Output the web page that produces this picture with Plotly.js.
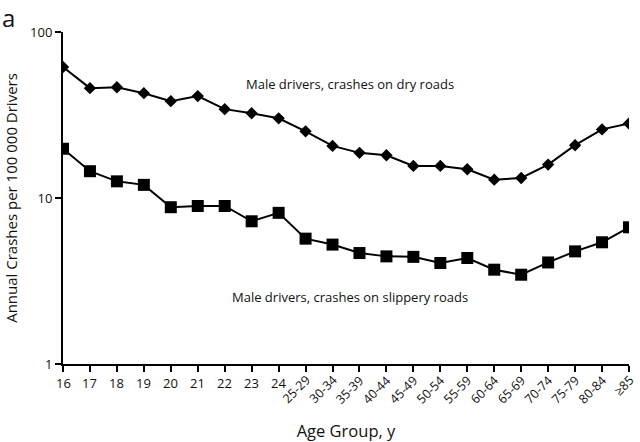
<!DOCTYPE html>
<html>
<head>
<meta charset="utf-8">
<script src="https://cdn.plot.ly/plotly-3.0.1.min.js"></script>
<style>html,body{margin:0;padding:0;background:#fff;}#chart{width:640px;height:442px;}</style>
</head>
<body>
<div id="chart"></div>
<script>
var ageGroups = ["16","17","18","19","20","21","22","23","24","25-29","30-34","35-39","40-44","45-49","50-54","55-59","60-64","65-69","70-74","75-79","80-84","\u226585"];
var dryRoads = [61.5, 45.9, 46.5, 42.8, 38.3, 41.1, 34.3, 32.4, 30.2, 25.2, 20.6, 18.7, 18.1, 15.6, 15.6, 14.9, 12.9, 13.2, 15.9, 20.8, 25.9, 28.1];
var slipperyRoads = [19.8, 14.5, 12.6, 12.0, 8.8, 8.95, 8.95, 7.24, 8.14, 5.69, 5.24, 4.66, 4.45, 4.42, 4.06, 4.35, 3.70, 3.45, 4.09, 4.77, 5.41, 6.66];
var yTickVals = [1, 10, 100];
var yTickText = ["1", "10", "100"];
var seriesLabels = ["Male drivers, crashes on dry roads", "Male drivers, crashes on slippery roads"];

var FONT = "Open Sans, sans-serif";
var idx = ageGroups.map(function(_, i){ return i; });

var traces = [
  {x: idx, y: dryRoads, type: "scatter", mode: "lines+markers",
   line: {color: "#000", width: 2},
   marker: {symbol: "diamond", size: 9.5, color: "#000"}, hoverinfo: "x+y"},
  {x: idx, y: slipperyRoads, type: "scatter", mode: "lines+markers",
   line: {color: "#000", width: 2},
   marker: {symbol: "square", size: 12, color: "#000"}, hoverinfo: "x+y"}
];

var annotations = [];
ageGroups.forEach(function(lab, i){
  if (i < 9) {
    annotations.push({x: i, y: 0, xref: "x", yref: "paper", text: lab, showarrow: false,
      xanchor: "center", yanchor: "top", yshift: -8, font: {family: FONT, size: 13, color: "#111"}});
  } else {
    annotations.push({x: i, y: 0, xref: "x", yref: "paper", text: lab, showarrow: false,
      textangle: -45, xanchor: "right", yanchor: "top", xshift: 11, yshift: -5,
      font: {family: FONT, size: 12.5, color: "#111"}});
  }
});
annotations.push({x: 0.507, y: 0.843, xref: "paper", yref: "paper", text: seriesLabels[0], showarrow: false,
  xanchor: "center", yanchor: "middle", font: {family: FONT, size: 13, color: "#111"}});
annotations.push({x: 0.507, y: 0.202, xref: "paper", yref: "paper", text: seriesLabels[1], showarrow: false,
  xanchor: "center", yanchor: "middle", font: {family: FONT, size: 13, color: "#111"}});
annotations.push({x: 0, y: 1, xref: "paper", yref: "paper", text: "a", showarrow: false,
  xanchor: "left", yanchor: "top", xshift: -63, yshift: 33, font: {family: FONT, size: 24, color: "#111"}});

var layout = {
  width: 640, height: 442,
  margin: {l: 63, r: 11, t: 32, b: 78},
  paper_bgcolor: "#fff", plot_bgcolor: "#fff",
  showlegend: false,
  font: {family: FONT, color: "#111"},
  xaxis: {
    range: [0, 21], tickvals: idx, ticktext: ageGroups, showticklabels: false,
    ticks: "outside", ticklen: 6, tickwidth: 2, tickcolor: "#000",
    showline: true, linecolor: "#000", linewidth: 2, showgrid: false, zeroline: false,
    title: {text: "Age Group, y", font: {family: FONT, size: 16.5, color: "#111"}, standoff: 54}
  },
  yaxis: {
    type: "log", range: [0, 2], tickvals: yTickVals, ticktext: yTickText,
    ticks: "outside", ticklen: 6, tickwidth: 2, tickcolor: "#000",
    tickfont: {family: FONT, size: 13, color: "#111"},
    showline: true, linecolor: "#000", linewidth: 2, showgrid: false, zeroline: false,
    title: {text: "Annual Crashes per 100 000 Drivers", font: {family: FONT, size: 15, color: "#111"}, standoff: 9}
  },
  annotations: annotations
};

Plotly.newPlot("chart", traces, layout, {displayModeBar: false, staticPlot: true});
</script>
</body>
</html>
